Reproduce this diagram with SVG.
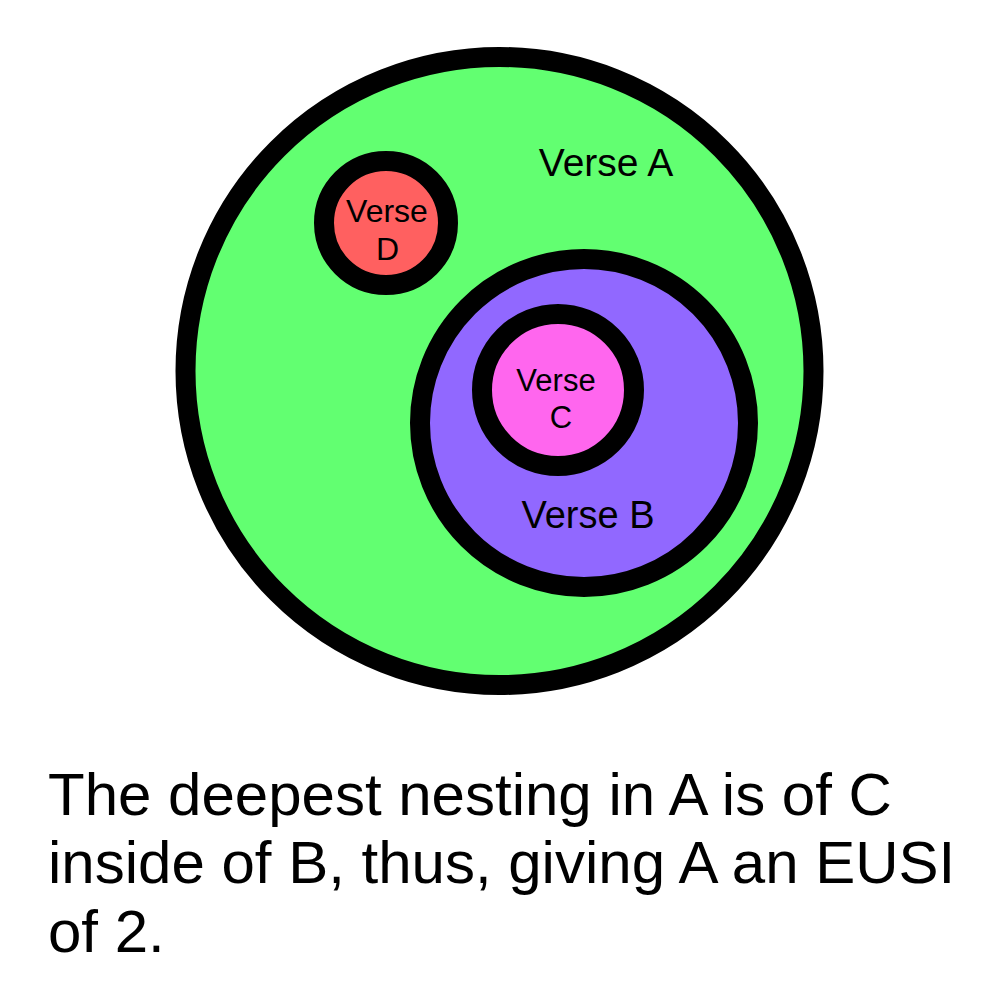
<svg xmlns="http://www.w3.org/2000/svg" width="1000" height="1000" viewBox="0 0 1000 1000">
<style>
.ring{stroke:#000;stroke-width:20}
.t{font-family:"Liberation Sans",Arial,sans-serif;fill:#000;text-anchor:middle}
.cap{font-family:"Liberation Sans",Arial,sans-serif;fill:#000;font-size:60px}
</style>
<rect width="1000" height="1000" fill="#fff"/>
<g id="verseA">
<circle class="ring" cx="499.5" cy="371" r="314" fill="#62ff71"/>
<text class="t" x="606" y="175.5" font-size="39">Verse A</text>
</g>
<g id="verseD">
<circle class="ring" cx="386" cy="223" r="62" fill="#ff6060"/>
<text class="t" x="387" y="222" font-size="32">Verse</text>
<text class="t" x="387.5" y="260" font-size="32">D</text>
</g>
<g id="verseB">
<circle class="ring" cx="584" cy="423" r="164" fill="#9168ff"/>
<text class="t" x="588" y="527.5" font-size="38">Verse B</text>
</g>
<g id="verseC">
<circle class="ring" cx="558" cy="390" r="76" fill="#ff66ee"/>
<text class="t" x="556" y="391" font-size="31">Verse</text>
<text class="t" x="561" y="428" font-size="31">C</text>
</g>
<g id="connectors"></g>
<g id="caption">
<text class="cap" x="48" y="815">The deepest nesting in A is of C</text>
<text class="cap" x="48" y="883">inside of B, thus, giving A an EUSI</text>
<text class="cap" x="48" y="952">of 2.</text>
</g>
</svg>
